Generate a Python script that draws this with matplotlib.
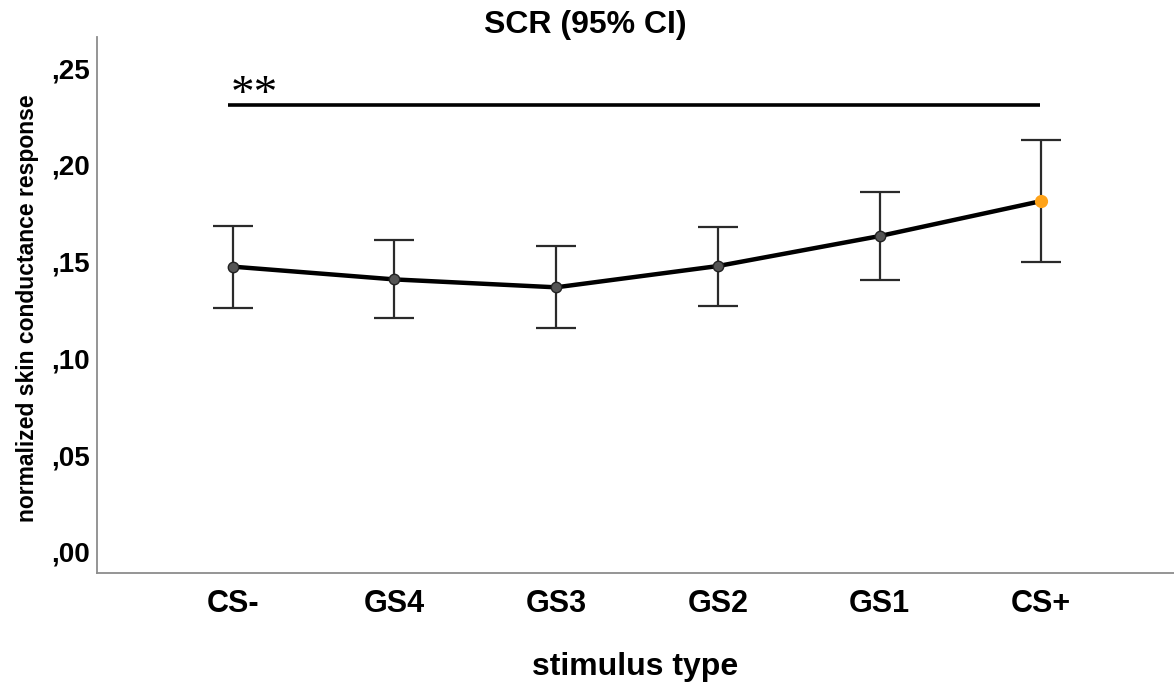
import matplotlib
matplotlib.use("Agg")
import matplotlib.pyplot as plt
import numpy as np

# Stimulus categories along the generalization gradient
stimuli = ["CS-", "GS4", "GS3", "GS2", "GS1", "CS+"]
# Mean normalized SCR and 95% confidence interval bounds
scr_mean = [0.1474, 0.1408, 0.1367, 0.1477, 0.1632, 0.1813]
ci_lower = [0.1259, 0.1207, 0.1155, 0.1269, 0.1403, 0.1498]
ci_upper = [0.1686, 0.1610, 0.1581, 0.1679, 0.1861, 0.2129]
y_ticks = [0.00, 0.05, 0.10, 0.15, 0.20, 0.25]
y_tick_labels = [",00", ",05", ",10", ",15", ",20", ",25"]
# Significance bracket between CS- and CS+
sig_level = 0.2310
sig_text = "**"

plt.rcParams["font.family"] = ["Liberation Sans", "DejaVu Sans"]

W, H = 1174, 684
fig = plt.figure(figsize=(W / 100, H / 100), dpi=100)
ax = fig.add_axes([97 / W, 1 - 572.7 / H, 1 - 97 / W, (572.7 - 36.7) / H])

x = np.arange(len(stimuli))
mean = np.array(scr_mean)
lo = np.array(ci_lower)
hi = np.array(ci_upper)

ax.errorbar(x, mean, yerr=[mean - lo, hi - mean], fmt="none",
            ecolor="#2a2a2a", elinewidth=1.6, capsize=14.5, capthick=1.6, zorder=2)
ax.plot(x, mean, color="black", lw=3.2, zorder=3, solid_capstyle="round")
ax.plot(x[:-1], mean[:-1], "o", ms=7.5, mfc="#555555", mec="#222222", mew=1.0, zorder=4)
ax.plot(x[-1:], mean[-1:], "o", ms=9.5, mfc="#ffa319", mec="#ffa319", mew=0, zorder=4)

# significance line and stars
ax.plot([-0.027, 4.99], [sig_level, sig_level], color="black", lw=2.6,
        solid_capstyle="butt", zorder=3)
ax.text(-0.01, 0.2302, sig_text, family=["Liberation Serif", "DejaVu Serif"],
        fontsize=34, ha="left", va="baseline")

ax.set_xlim(-0.839, 5.821)
ax.set_ylim(-0.01086, 0.2663)
ax.set_xticks(x)
ax.set_xticklabels(stimuli, fontsize=22, fontweight="bold")
ax.set_yticks(y_ticks)
ax.set_yticklabels(y_tick_labels, fontsize=20, fontweight="bold")
ax.tick_params(axis="both", length=0)
ax.tick_params(axis="x", pad=12)
ax.tick_params(axis="y", pad=5)

for s in ["top", "right"]:
    ax.spines[s].set_visible(False)
for s in ["left", "bottom"]:
    ax.spines[s].set_color("#8c8c8c")
    ax.spines[s].set_linewidth(1.3)

fig.text(635.5 / W, 1 - 675 / H, "stimulus type", fontsize=23, fontweight="bold",
         ha="center", va="baseline")
fig.text(27.5 / W, 1 - 308 / H, "normalized skin conductance response",
         fontsize=16.5, fontweight="bold", rotation=90, ha="center", va="center")
fig.text(585 / W, 1 - 33 / H, "SCR (95% CI)", fontsize=23, fontweight="bold",
         ha="center", va="baseline")

fig.savefig("out.png", dpi=100)
